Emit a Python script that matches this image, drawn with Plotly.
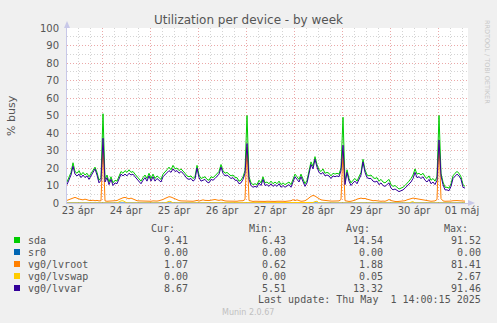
import pandas as pd
import plotly.graph_objects as go

# ---------------- data ----------------
start_time = "2025-04-23 06:30"
n_points = 200

sda = [12, 15, 17.5, 23, 18, 17, 18.5, 16, 17.5, 16, 17, 15, 17, 19, 20.5, 17.5, 13, 14.5, 51, 13.5,
       16, 12, 15, 11.5, 13, 12.5, 15, 18, 17, 18.5, 17.5, 19, 17.5, 18,
       16.5, 15, 13.5, 12.5, 14.5, 16, 14, 17, 14, 16.5, 14, 15.5, 14.5, 13.5, 16.5, 17.5, 19, 20.5, 19, 21.5,
       19.5, 20, 18.5, 19.5, 18.5, 17, 15.5, 15, 15.5, 14, 15, 21.5, 16,
       14, 14.5, 15, 13.5, 13, 15, 14.5, 15.5, 17, 18, 22, 18.5, 17, 17.5, 16.5, 15.5, 16, 14.5, 14.5, 12.5,
       13, 15, 18.5, 50, 15, 11.5, 10.5, 11, 10.5, 13, 11.5, 15, 11.5,
       12, 11, 12.5, 11, 12, 11, 12.5, 10.5, 11.5, 10.5, 11.5, 12, 10.5, 13.5, 16.5, 15, 13.5, 16.5, 14, 11,
       13, 19, 23.5, 21, 26.5, 22, 19, 18, 19.5, 17, 17.5, 17, 15.5,
       17, 16.5, 17, 16.5, 20, 49, 12, 19, 14, 11.5, 13, 14, 12.5, 15.5, 17.5, 25, 19, 16, 15.5, 16,
       14.5, 14, 14.5, 12.5, 13.5, 12, 11.5, 12.5, 13.5, 10.5, 9.5, 10, 9,
       8, 8.5, 9, 10, 11, 12.5, 14, 16, 19.5, 16.5, 17, 16, 17, 15, 14, 15.5, 13, 14, 12.5, 15,
       50, 17, 12, 9, 9, 8.5, 11, 15.5, 17, 18, 17, 15, 10.5, 9.5]

sr0 = [0, 0, 0, 0, 0, 0, 0, 0, 0, 0, 0, 0, 0, 0, 0, 0, 0, 0, 0, 0,
       0, 0, 0, 0, 0, 0, 0, 0, 0, 0, 0, 0, 0, 0, 0, 0, 0, 0, 0, 0,
       0, 0, 0, 0, 0, 0, 0, 0, 0, 0, 0, 0, 0, 0, 0, 0, 0, 0, 0, 0,
       0, 0, 0, 0, 0, 0, 0, 0, 0, 0, 0, 0, 0, 0, 0, 0, 0, 0, 0, 0,
       0, 0, 0, 0, 0, 0, 0, 0, 0, 0, 0, 0, 0, 0, 0, 0, 0, 0, 0, 0,
       0, 0, 0, 0, 0, 0, 0, 0, 0, 0, 0, 0, 0, 0, 0, 0, 0, 0, 0, 0,
       0, 0, 0, 0, 0, 0, 0, 0, 0, 0, 0, 0, 0, 0, 0, 0, 0, 0, 0, 0,
       0, 0, 0, 0, 0, 0, 0, 0, 0, 0, 0, 0, 0, 0, 0, 0, 0, 0, 0, 0,
       0, 0, 0, 0, 0, 0, 0, 0, 0, 0, 0, 0, 0, 0, 0, 0, 0, 0, 0, 0,
       0, 0, 0, 0, 0, 0, 0, 0, 0, 0, 0, 0, 0, 0, 0, 0, 0, 0, 0, 0]

lvroot = [1.5, 1.8, 2.2, 2.8, 3.2, 2.6, 2.3, 2.0, 1.8, 2.2, 1.7, 1.5, 1.4, 1.6, 1.3, 1.5, 1.2, 1.3, 33, 1.2,
          1.0, 1.1, 1.0, 1.2, 1.0, 1.4, 2.0, 2.6, 3.0, 3.2, 2.8, 2.4, 2.8, 2.2,
          1.6, 1.3, 1.2, 1.1, 1.0, 1.2, 1.0, 1.1, 1.0, 1.2, 1.0, 1.1, 1.3, 1.5, 2.0, 2.6, 3.2, 3.6, 3.4, 2.8,
          2.4, 1.8, 1.4, 1.2, 1.1, 1.0, 1.2, 1.0, 1.1, 1.0, 1.2, 1.5, 1.1,
          1.5, 1.8, 1.5, 1.3, 1.4, 1.6, 1.8, 2.0, 1.7, 1.5, 1.8, 1.4, 1.2, 1.1, 1.0, 1.2, 1.0, 1.1, 1.0, 1.2,
          1.1, 1.3, 2.0, 32, 1.4, 1.0, 0.9, 1.0, 0.9, 1.0, 1.1, 1.0, 0.9,
          1.0, 0.9, 1.1, 1.0, 0.9, 1.0, 1.1, 0.9, 1.0, 0.9, 1.0, 1.1, 1.3, 1.9, 1.4, 1.8, 1.2, 1.0, 1.1, 1.3,
          2.0, 3.0, 3.8, 4.3, 4.0, 3.2, 2.4, 1.8, 1.6, 1.4, 1.3, 1.2, 1.1,
          1.1, 1.0, 1.1, 1.2, 2.0, 30, 1.3, 1.0, 0.9, 1.0, 1.2, 1.6, 2.2, 2.6, 2.8, 2.5, 2.6, 2.2, 1.8, 1.5,
          1.3, 1.4, 1.2, 1.1, 1.0, 1.1, 1.0, 1.4, 2.0, 1.4, 1.0, 0.9, 0.8,
          0.9, 1.0, 1.0, 1.3, 1.8, 2.2, 2.5, 2.8, 2.6, 2.4, 2.0, 1.8, 1.5, 1.3, 1.2, 1.1, 1.0, 1.1, 1.2, 2.0,
          34, 2.5, 1.2, 1.0, 0.9, 1.0, 1.1, 1.3, 1.5, 1.4, 1.3, 1.2, 1.1, 1.07]

lvswap = [0, 0, 0, 0, 0, 0, 0, 0, 0, 0, 0, 0, 0, 0, 0, 0, 0, 0, 0, 0,
          0, 0, 0, 0, 0, 0, 0.6, 1.2, 1.3, 0.8, 0, 0, 0, 0,
          0, 0, 0, 0, 0, 0, 0, 0, 0, 0, 0, 0, 0, 0, 0, 0, 0.5, 1.0, 0.8, 0,
          0, 0, 0, 0, 0, 0, 0, 0, 0, 0, 0, 0, 0,
          0, 0, 0, 0, 0, 0, 0, 0, 0, 0, 0, 0, 0, 0, 0, 0, 0, 0, 0, 0,
          0, 0, 0, 0, 0, 0, 0, 0, 0, 0, 0, 0, 0,
          0, 0, 0, 0, 0, 0, 0, 0, 0, 0, 0, 0, 0, 0, 0, 0, 0, 0, 0, 0,
          0, 0, 0, 0.3, 0.8, 1.0, 0, 0, 0, 0, 0, 0, 0,
          0, 0, 0, 0, 0, 0, 0, 0, 0, 0, 0, 0, 0.4, 0, 0, 0, 0, 0, 0, 0,
          0, 0, 0, 0, 0, 0, 0, 0, 0, 0, 0, 0, 0,
          0, 0, 0, 0, 0, 0, 0.5, 0.8, 0, 0, 0, 0, 0, 0, 0, 0, 0, 0, 0, 0,
          0, 0, 0, 0, 0, 0, 0, 0, 0, 0, 0, 0, 0, 0]

lvvar = [10.5, 13.5, 16, 21, 16.5, 15.5, 16.5, 14.5, 16, 14.5, 15.5, 13.5, 15.5, 17.5, 19.5, 16, 11.5, 13, 37, 12,
         14.5, 10.5, 13.5, 10, 11.5, 11, 13.5, 16.5, 15.5, 16.5, 15.5, 17, 16, 16.5,
         15, 13.5, 12, 11, 13, 14.5, 12.5, 15.5, 12.5, 15, 12.5, 14, 13, 12, 15, 16, 17.5, 18.5, 17.5, 19.5,
         18, 18.5, 17, 18, 17, 15.5, 14, 13.5, 14, 12.5, 13.5, 20, 14.5,
         12.5, 13, 13.5, 12, 11.5, 13.5, 13, 14, 15.5, 16.5, 20.5, 17, 15.5, 16, 15, 14, 14.5, 13, 13, 11,
         11.5, 13.5, 17, 34, 13.5, 10, 9, 9.5, 9, 11.5, 10, 13.5, 10,
         10.5, 9.5, 11, 9.5, 10.5, 9.5, 11, 9, 10, 9, 10, 10.5, 9, 12, 15, 13.5, 12, 15, 12.5, 9.5,
         11.5, 17.5, 22, 19.5, 25, 20.5, 17.5, 16.5, 17.5, 15.5, 16, 15.5, 14,
         15.5, 15, 15.5, 15, 18.5, 33, 10.5, 17.5, 12.5, 10, 11.5, 12.5, 11, 14, 16, 23.5, 17.5, 14.5, 14, 14,
         12.5, 12, 12.5, 10.5, 11.5, 10, 9.5, 10.5, 11.5, 8.5, 7.5, 8, 7,
         6.5, 7, 7.5, 8.5, 9.5, 11, 12, 14, 17.5, 14.5, 15, 14, 15, 13, 12, 13.5, 11, 12, 10.5, 13,
         36, 15.5, 10.5, 7.5, 7.5, 7, 9.5, 14, 15.5, 16.5, 15.5, 13.5, 9, 8.5]

series_names = ["sda", "sr0", "vg0/lvroot", "vg0/lvswap", "vg0/lvvar"]
series_colors = ["#00CC00", "#0066B3", "#FF8000", "#FFCC00", "#330099"]
series_values = [sda, sr0, lvroot, lvswap, lvvar]

cur_vals = ["9.41", "0.00", "1.07", "0.00", "8.67"]
min_vals = ["6.43", "0.00", "0.62", "0.00", "5.51"]
avg_vals = ["14.54", "0.00", "1.88", "0.05", "13.32"]
max_vals = ["91.52", "0.00", "81.41", "2.67", "91.46"]

day_labels = ["23 ápr", "24 ápr", "25 ápr", "26 ápr", "27 ápr", "28 ápr", "29 ápr", "30 ápr", "01 máj"]
day_dates = ["2025-04-23", "2025-04-24", "2025-04-25", "2025-04-26", "2025-04-27",
             "2025-04-28", "2025-04-29", "2025-04-30", "2025-05-01"]
y_ticks = [0, 10, 20, 30, 40, 50, 60, 70, 80, 90, 100]

title_text = "Utilization per device - by week"
y_title = "% busy"
last_update = "Last update: Thu May  1 14:00:15 2025"
munin_text = "Munin 2.0.67"
rrd_text = "RRDTOOL / TOBI OETIKER"

x_range = ["2025-04-23 06:30", "2025-05-01 15:00"]

# ---------------- figure ----------------
W, H = 497, 323
L, R, T, B = 67, 29, 28, 120
PW, PH = W - L - R, H - T - B

def px(xp):
    return (xp - L) / PW

def py(yp):
    return (H - B - yp) / PH

times = pd.date_range(start_time, periods=n_points, freq="h")

fig = go.Figure()
for name, color, vals in zip(series_names, series_colors, series_values):
    fig.add_trace(go.Scatter(x=times, y=vals, mode="lines", name=name,
                             line=dict(color=color, width=1), showlegend=False,
                             hoverinfo="skip"))

FONT = "DejaVu Sans"
MONO = "DejaVu Sans Mono"
TXT = "#555555"
MAJOR = "#EBA8A8"
MINOR = "#D4D4D4"
AXIS = "#C8C8E8"
DOTS = "1px,2px"

noon = [pd.Timestamp(d) + pd.Timedelta(hours=12) for d in day_dates]

fig.update_layout(
    width=W, height=H, autosize=False,
    margin=dict(l=L, r=R, t=T, b=B, pad=0),
    paper_bgcolor="#F0F0F0", plot_bgcolor="#FFFFFF",
    font=dict(family=FONT, size=10, color=TXT),
    title=dict(text=title_text, x=0.5, xref="container", xanchor="center",
               y=1 - 20 / H, yref="container", yanchor="middle",
               font=dict(family=FONT, size=12, color=TXT)),
    xaxis=dict(type="date", range=x_range, tick0="2025-04-24", dtick=86400000,
               showticklabels=False, ticks="", showgrid=True, gridcolor=MAJOR,
               griddash=DOTS, gridwidth=1, zeroline=False,
               showline=True, linecolor=AXIS, linewidth=1,
               minor=dict(tick0="2025-04-24", dtick=6 * 3600000, showgrid=True,
                          gridcolor=MINOR, griddash=DOTS, gridwidth=1, ticks="")),
    xaxis2=dict(type="date", range=x_range, overlaying="x", anchor="y", side="bottom",
                tickmode="array", tickvals=noon, ticktext=day_labels,
                showgrid=False, ticks="", zeroline=False, showline=False,
                tickfont=dict(family=FONT, size=10, color=TXT)),
    yaxis=dict(range=[0, 100], tickmode="array", tickvals=y_ticks,
               ticks="", ticklabelstandoff=5, showgrid=True, gridcolor=MAJOR,
               griddash=DOTS, gridwidth=1, zeroline=False,
               showline=True, linecolor=AXIS, linewidth=1,
               tickfont=dict(family=FONT, size=10, color=TXT),
               minor=dict(dtick=5, tick0=0, showgrid=True, gridcolor=MINOR,
                          griddash=DOTS, gridwidth=1, ticks="")),
)

# invisible trace to activate the label axis
fig.add_trace(go.Scatter(x=[noon[0]], y=[None], xaxis="x2", yaxis="y",
                         showlegend=False, hoverinfo="skip"))

ann = []
shapes = []

ann.append(dict(text=y_title, x=px(11), y=py(116), xref="paper", yref="paper",
                showarrow=False, textangle=-90, font=dict(family=FONT, size=11, color=TXT),
                xanchor="center", yanchor="middle"))

# axis arrows
shapes.append(dict(type="path", xref="paper", yref="paper", line=dict(width=0),
                   fillcolor=AXIS,
                   path=f"M {px(64)} {py(28)} L {px(70)} {py(28)} L {px(67)} {py(21)} Z"))
shapes.append(dict(type="line", xref="paper", yref="paper", line=dict(color=AXIS, width=1),
                   x0=px(468), x1=px(471), y0=0, y1=0))
shapes.append(dict(type="path", xref="paper", yref="paper", line=dict(width=0),
                   fillcolor=AXIS,
                   path=f"M {px(468)} {py(200)} L {px(468)} {py(206)} L {px(475)} {py(203)} Z"))

# legend table
row_y = [240, 252, 264, 276, 288]
head_y = 228.5
col_right = [190, 288, 385, 483]
head_right = [177, 275, 372, 470]
headers = ["Cur:", "Min:", "Avg:", "Max:"]
for hx, htxt in zip(head_right, headers):
    ann.append(dict(text=htxt, x=px(hx), y=py(head_y), xref="paper", yref="paper",
                    showarrow=False, xanchor="right", yanchor="middle",
                    font=dict(family=MONO, size=10, color=TXT)))
for i, name in enumerate(series_names):
    yy = row_y[i]
    shapes.append(dict(type="rect", xref="paper", yref="paper",
                       x0=px(14), x1=px(20), y0=py(yy + 3), y1=py(yy - 3),
                       fillcolor=series_colors[i], line=dict(width=0)))
    ann.append(dict(text=name, x=px(26), y=py(yy), xref="paper", yref="paper",
                    showarrow=False, xanchor="left", yanchor="middle",
                    font=dict(family=MONO, size=10, color=TXT)))
    for cx, col in zip(col_right, [cur_vals, min_vals, avg_vals, max_vals]):
        ann.append(dict(text=col[i], x=px(cx), y=py(yy), xref="paper", yref="paper",
                        showarrow=False, xanchor="right", yanchor="middle",
                        font=dict(family=MONO, size=10, color=TXT)))

ann.append(dict(text=last_update.replace("  ", "&nbsp; "), x=px(483), y=py(299.5), xref="paper", yref="paper",
                showarrow=False, xanchor="right", yanchor="middle",
                font=dict(family=MONO, size=10, color=TXT)))
ann.append(dict(text=munin_text, x=px(248), y=py(312), xref="paper", yref="paper",
                showarrow=False, xanchor="center", yanchor="middle",
                font=dict(family=FONT, size=8, color="#C0C0C0")))
ann.append(dict(text=rrd_text, x=px(487), y=py(62), xref="paper", yref="paper",
                showarrow=False, xanchor="center", yanchor="middle", textangle=90,
                font=dict(family=FONT, size=6.5, color="#C8C8C8")))

fig.update_layout(annotations=ann, shapes=shapes)

fig.write_html("out.html")
